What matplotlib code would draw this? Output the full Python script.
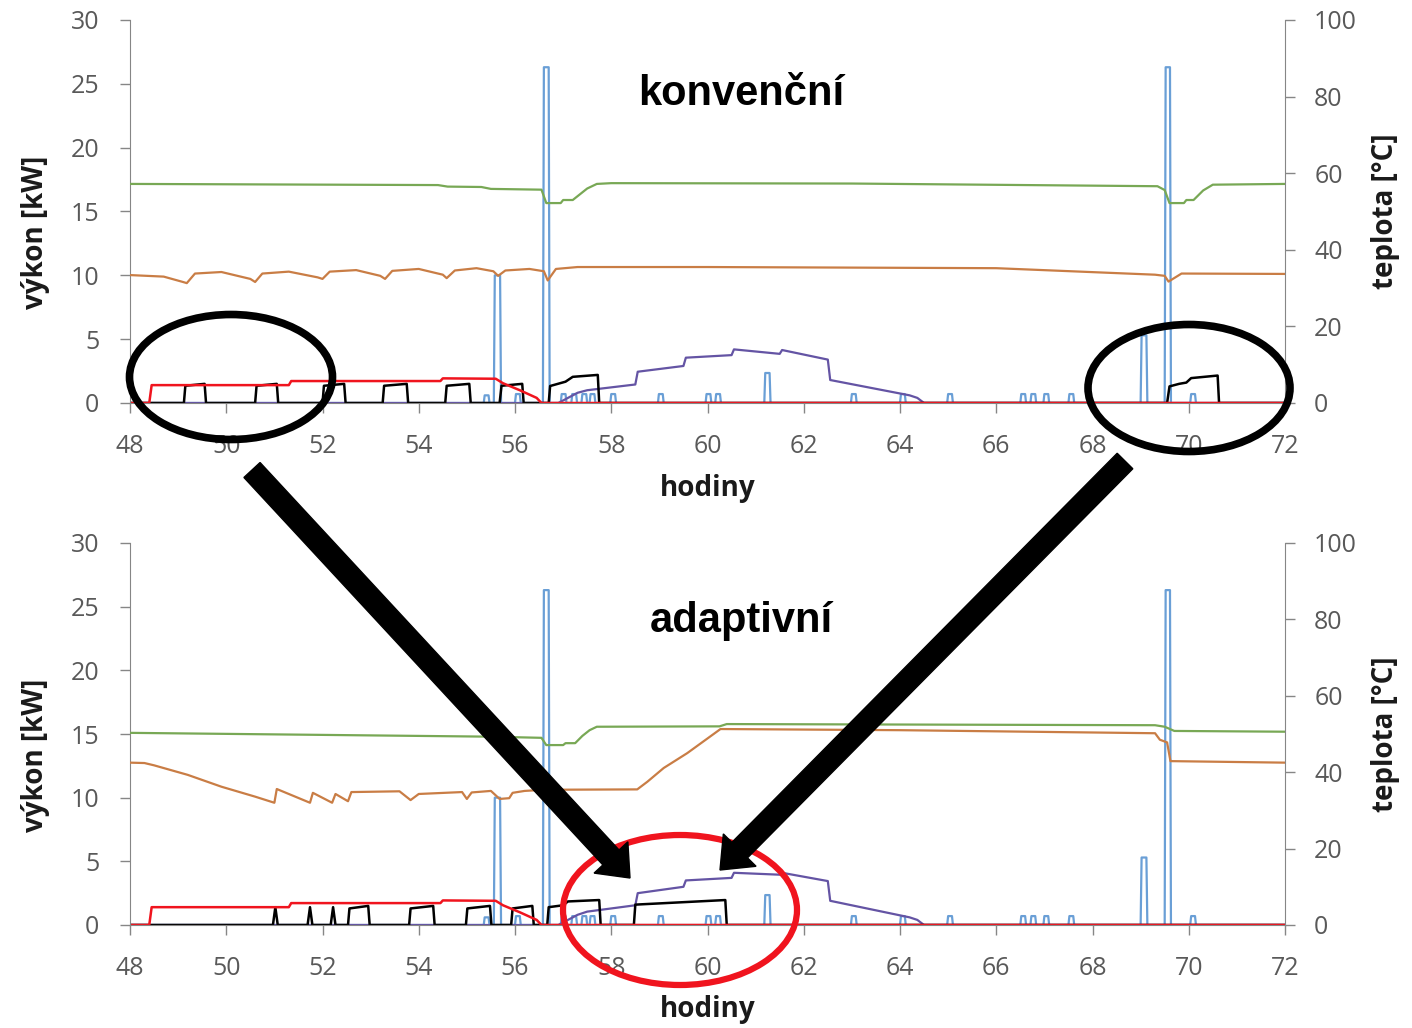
import matplotlib.pyplot as plt
import numpy as np
from matplotlib.patches import Ellipse, FancyArrow

plt.rcParams['font.family'] = ['Open Sans', 'DejaVu Sans']

# osa x [hodiny]
hodiny_ticks = list(range(48, 73, 2))

# odber teple vody (modra) - pulzy: zacatek [h], sirka [h], vyska [kW]
odber_start = [55.35, 55.56, 56.0, 56.58, 56.95, 57.17, 57.38, 57.55, 57.98, 58.97,
               59.96, 60.16, 61.18, 62.98, 64.0, 64.98, 66.5, 66.71, 66.98, 67.5,
               69.0, 69.5, 70.03]
odber_sirka = [0.12, 0.15, 0.12, 0.14, 0.12, 0.12, 0.12, 0.12, 0.12, 0.12,
               0.12, 0.12, 0.13, 0.12, 0.12, 0.12, 0.12, 0.12, 0.12, 0.12,
               0.14, 0.13, 0.12]
odber_vyska = [0.6, 10.0, 0.7, 26.3, 0.7, 0.7, 0.7, 0.7, 0.7, 0.7,
               0.7, 0.7, 2.35, 0.7, 0.7, 0.7, 0.7, 0.7, 0.7, 0.7,
               5.3, 26.3, 0.7]

# cervena [kW] - stejna v obou grafech
cervena_t = [48, 48.4, 48.45, 51.3, 51.35, 54.45, 54.5, 55.6, 55.75, 56.1, 56.45, 56.55, 72]
cervena_v = [0, 0, 1.4, 1.4, 1.72, 1.72, 1.93, 1.9, 1.55, 1.0, 0.4, 0, 0]

# ---- konvencni ----
cerna1_t = [48, 49.12, 49.15, 49.55, 49.58, 50.6, 50.63, 51.05, 51.08, 52.0, 52.03, 52.45,
            52.48, 53.25, 53.28, 53.75, 53.78, 54.55, 54.58, 55.05, 55.08, 55.68, 55.72,
            56.15, 56.18, 56.7, 56.73, 57.05, 57.2, 57.72, 57.75, 69.55, 69.6, 69.8,
            69.95, 70.05, 70.6, 70.63, 72]
cerna1_v = [0, 0, 1.35, 1.5, 0, 0, 1.35, 1.5, 0, 0, 1.35, 1.5,
            0, 0, 1.35, 1.5, 0, 0, 1.35, 1.5, 0, 0, 1.35,
            1.5, 0, 0, 1.33, 1.67, 2.05, 2.2, 0, 0, 1.3, 1.5,
            1.6, 1.95, 2.15, 0, 0]

fialova1_t = [48, 56.9, 57.3, 57.5, 58.5, 58.55, 59.5, 59.55, 60.5, 60.55, 61.5, 61.55,
              62.5, 62.55, 64.2, 64.36, 64.5, 72]
fialova1_v = [0, 0, 0.8, 1.0, 1.45, 2.45, 2.9, 3.55, 3.75, 4.2, 3.85, 4.15,
              3.4, 1.8, 0.6, 0.4, 0, 0]

zelena1_t = [48, 54.4, 54.6, 55.3, 55.5, 56.55, 56.65, 56.95, 57.0, 57.2, 57.35, 57.5,
             57.7, 58.0, 63, 69.35, 69.5, 69.6, 69.9, 69.95, 70.1, 70.3, 70.5, 72]
zelena1_v = [57.2, 56.9, 56.5, 56.4, 55.9, 55.7, 52.2, 52.2, 53.0, 53.0, 54.5, 56.0,
             57.2, 57.4, 57.3, 56.6, 55.6, 52.2, 52.2, 53.0, 53.0, 55.5, 57.0, 57.2]

oranzova1_t = [48, 48.7, 49.1, 49.18, 49.35, 49.9, 50.5, 50.6, 50.75, 51.3, 51.9, 52.0,
               52.15, 52.7, 53.2, 53.3, 53.45, 54.0, 54.5, 54.58, 54.75, 55.2, 55.55,
               55.65, 55.8, 56.3, 56.6, 56.68, 56.85, 57.3, 60, 66, 69.3, 69.5, 69.58,
               69.85, 72]
oranzova1_v = [33.4, 33.0, 31.6, 31.3, 33.8, 34.2, 32.4, 31.6, 33.8, 34.3, 32.8, 32.4,
               34.3, 34.7, 33.2, 32.4, 34.5, 35.0, 33.5, 32.6, 34.6, 35.2, 34.4,
               33.2, 34.6, 35.0, 34.4, 32.0, 35.0, 35.5, 35.5, 35.2, 33.5, 33.2, 31.7,
               33.8, 33.7]

# ---- adaptivni ----
cerna2_t = [48, 50.97, 51.02, 51.07, 51.69, 51.74, 51.79, 52.17, 52.22, 52.27,
            52.53, 52.56, 52.95, 52.98, 53.8, 53.83, 54.3, 54.33, 54.98, 55.01, 55.48,
            55.51, 55.92, 55.95, 56.36, 56.39, 56.67, 56.7, 57.0, 57.1, 57.75, 57.78,
            58.47, 58.5, 60.37, 60.4, 72]
cerna2_v = [0, 0, 1.4, 0, 0, 1.4, 0, 0, 1.4, 0,
            0, 1.3, 1.5, 0, 0, 1.3, 1.5, 0, 0, 1.3, 1.5,
            0, 0, 1.3, 1.5, 0, 0, 1.4, 1.55, 1.85, 1.96, 0,
            0, 1.6, 1.96, 0, 0]

fialova2_t = [48, 56.9, 57.3, 57.5, 58.5, 58.55, 59.5, 59.55, 60.5, 60.55, 61.5, 61.55,
              62.5, 62.55, 64.2, 64.36, 64.5, 72]
fialova2_v = [0, 0, 0.8, 1.05, 1.55, 2.5, 3.0, 3.5, 3.7, 4.1, 3.95, 4.1,
              3.45, 1.9, 0.6, 0.4, 0, 0]

zelena2_t = [48, 55.5, 56.55, 56.65, 57.0, 57.05, 57.25, 57.4, 57.55, 57.7, 60.25,
             60.4, 69.3, 69.5, 69.7, 72]
zelena2_v = [50.3, 49.3, 49.0, 47.1, 47.1, 47.6, 47.6, 49.5, 51.0, 51.9, 52.0,
             52.6, 52.3, 51.9, 50.8, 50.6]

oranzova2_t = [48, 48.3, 48.5, 49.2, 49.9, 50.6, 51.0, 51.05, 51.74, 51.8, 52.2, 52.27,
               52.53, 52.6, 53.6, 53.83, 54.0, 54.9, 55.0, 55.1, 55.5, 55.68, 55.88,
               55.95, 56.2, 56.6, 58.54, 58.75, 59.09, 59.58, 60.27, 64, 69.3, 69.4,
               69.55, 69.62, 72]
oranzova2_v = [42.5, 42.4, 41.8, 39.3, 36.2, 33.6, 32.0, 35.6, 32.0, 34.6, 32.0, 34.3,
               32.4, 34.8, 35.0, 32.7, 34.3, 34.8, 33.0, 34.7, 35.1, 33.0, 33.2,
               34.6, 35.1, 35.4, 35.5, 37.5, 41.1, 45.0, 51.3, 51.0, 50.2, 48.5,
               47.8, 42.9, 42.5]

modra = '#6a9fd6'
cervena = '#f0141e'
fialova = '#6454a4'
zelena = '#78a855'
oranzova = '#c97d45'
seda = '#868686'


def pulzy(start, sirka, vyska):
    t, p = [48.0], [0.0]
    for s, w, h in zip(start, sirka, vyska):
        t += [s, s + 0.02, s + w - 0.02, s + w]
        p += [0, h, h, 0]
    t.append(72.0)
    p.append(0.0)
    return t, p


odber_t, odber_v = pulzy(odber_start, odber_sirka, odber_vyska)

fig = plt.figure(figsize=(14.12, 10.28), dpi=100)
W, H = 1412, 1028


def graf(rect, nazev, nazev_y, cerna_t, cerna_v, fialova_t, fialova_v,
         zelena_t, zelena_v, oranzova_t, oranzova_v):
    ax = fig.add_axes(rect)
    ax.plot(odber_t, odber_v, color=modra, lw=1.6)
    ax.plot(fialova_t, fialova_v, color=fialova, lw=1.6)
    ax.plot(cerna_t, cerna_v, color='black', lw=1.8)
    ax.plot(cervena_t, cervena_v, color=cervena, lw=1.8)
    ax.set_xlim(48, 72)
    ax.set_ylim(0, 30)
    ax.set_xticks(hodiny_ticks)
    ax.set_yticks(range(0, 31, 5))
    ax.spines['top'].set_visible(False)
    ax.spines['right'].set_visible(False)
    for s in ['left', 'bottom']:
        ax.spines[s].set_color(seda)
    ax.tick_params(axis='both', direction='out', length=7, width=1, color=seda,
                   labelcolor='#595959', labelsize=18)
    ax.tick_params(axis='x', pad=15)
    ax.tick_params(axis='y', pad=15)
    ax.set_xlabel('hodiny', fontsize=20, fontweight='bold', color='#1a1a1a')
    ax.xaxis.label.set_va('center')
    ax.xaxis.set_label_coords(0.5, -0.222)
    ax.set_ylabel('výkon [kW]', fontsize=20, fontweight='bold', color='#1a1a1a')
    ax.yaxis.label.set_va('center')
    ax.yaxis.set_label_coords(-0.082, 0.445)

    ax2 = ax.twinx()
    ax2.plot(zelena_t, zelena_v, color=zelena, lw=1.6)
    ax2.plot(oranzova_t, oranzova_v, color=oranzova, lw=1.6)
    ax2.set_ylim(0, 100)
    ax2.set_yticks(range(0, 101, 20))
    for s in ['top', 'left', 'bottom']:
        ax2.spines[s].set_visible(False)
    ax2.spines['right'].set_color(seda)
    ax2.tick_params(axis='y', direction='out', length=7, width=1, color=seda,
                    labelcolor='#595959', labelsize=18, pad=14)
    ax2.set_ylabel('teplota [°C]', fontsize=20, fontweight='bold', color='#1a1a1a',
                   rotation=90)
    ax2.yaxis.label.set_va('center')
    ax2.yaxis.set_label_coords(1.087, 0.5)

    ax.text(0.529, nazev_y, nazev, transform=ax.transAxes, ha='center', va='baseline',
            fontsize=30, fontweight='bold', family=['Liberation Sans', 'DejaVu Sans'])
    return ax, ax2


graf([130 / W, 1 - 403 / H, 1155 / W, 383 / H], 'konvenční', 0.778,
     cerna1_t, cerna1_v, fialova1_t, fialova1_v, zelena1_t, zelena1_v,
     oranzova1_t, oranzova1_v)
graf([130 / W, 1 - 925 / H, 1155 / W, 382 / H], 'adaptivní', 0.767,
     cerna2_t, cerna2_v, fialova2_t, fialova2_v, zelena2_t, zelena2_v,
     oranzova2_t, oranzova2_v)

# zvyrazneni - elipsy a sipky (v pixelech obrazku, prepocet na palce)
tr = fig.dpi_scale_trans


def px(x, y):
    return x / 100, (H - y) / 100


for (cx, cy, w, h, c, lw) in [(231, 377, 203, 125, 'black', 5.5),
                              (1189, 388, 202, 127, 'black', 5.5),
                              (680, 910, 234, 150, cervena, 4.5)]:
    fig.add_artist(Ellipse(px(cx, cy), w / 100, h / 100, fill=False, edgecolor=c,
                           lw=lw, transform=tr, zorder=5))

for (x0, y0, x1, y1) in [(252, 470, 630, 878), (1125, 461, 720, 870)]:
    a0 = px(x0, y0)
    a1 = px(x1, y1)
    fig.add_artist(FancyArrow(a0[0], a0[1], a1[0] - a0[0], a1[1] - a0[1],
                              width=0.22, head_width=0.46, head_length=0.28,
                              length_includes_head=True, color='black',
                              transform=tr, zorder=6))

fig.savefig('out.png', dpi=100)
